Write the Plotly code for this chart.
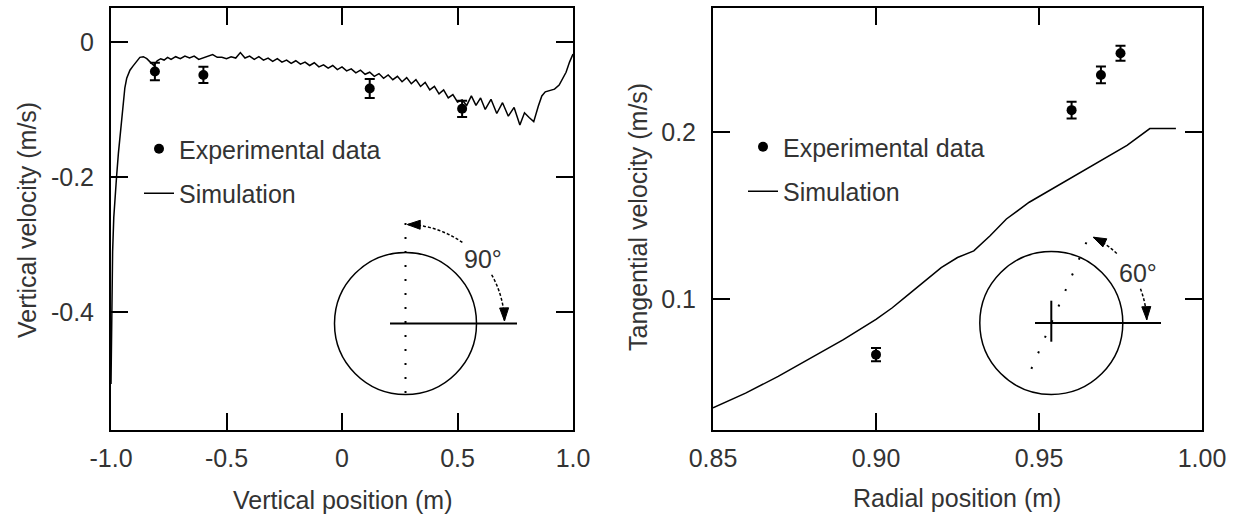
import numpy as np
import plotly.graph_objects as go

W, H = 1238, 518
FONT = "Arial, Liberation Sans, sans-serif"
TXT = "#333333"

# ---------------- data: left panel ----------------
left_exp_x = [-0.81, -0.60, 0.12, 0.52]
left_exp_y = [-0.044, -0.049, -0.069, -0.099]
left_exp_err = [0.013, 0.012, 0.014, 0.012]

left_sim_x = [-1.000, -0.997, -0.993, -0.988, -0.982, -0.976, -0.968, -0.961, -0.955, -0.948,
              -0.940, -0.932, -0.918, -0.905, -0.890, -0.875, -0.860, -0.845, -0.830, -0.815,
              -0.800, -0.785, -0.770, -0.755, -0.740, -0.720, -0.700, -0.680, -0.660, -0.640,
              -0.620, -0.600, -0.580, -0.560, -0.540, -0.520, -0.500, -0.480, -0.460, -0.440,
              -0.420, -0.400, -0.380, -0.360, -0.340, -0.320, -0.300, -0.280, -0.260, -0.240,
              -0.220, -0.200, -0.180, -0.160, -0.140, -0.120, -0.100, -0.080, -0.060, -0.040,
              -0.020, 0.000, 0.020, 0.040, 0.060, 0.080, 0.100, 0.120, 0.140, 0.160,
              0.180, 0.200, 0.220, 0.240, 0.260, 0.280, 0.300, 0.320, 0.340, 0.360,
              0.380, 0.400, 0.420, 0.440, 0.460, 0.480, 0.500, 0.520, 0.540, 0.560,
              0.580, 0.600, 0.620, 0.645, 0.670, 0.695, 0.720, 0.745, 0.770, 0.790,
              0.810, 0.830, 0.850, 0.865, 0.880, 0.900, 0.920, 0.940, 0.955, 0.970,
              0.985, 1.000]
left_sim_y = [-0.506, -0.390, -0.310, -0.260, -0.225, -0.200, -0.165, -0.140, -0.110, -0.086,
              -0.068, -0.054, -0.042, -0.036, -0.029, -0.023, -0.022, -0.025, -0.030, -0.035,
              -0.028, -0.025, -0.027, -0.023, -0.026, -0.022, -0.025, -0.021, -0.024, -0.021,
              -0.026, -0.024, -0.022, -0.019, -0.023, -0.023, -0.025, -0.022, -0.024, -0.016,
              -0.024, -0.021, -0.026, -0.022, -0.027, -0.024, -0.029, -0.025, -0.030, -0.027,
              -0.032, -0.028, -0.033, -0.030, -0.035, -0.031, -0.037, -0.034, -0.039, -0.035,
              -0.041, -0.037, -0.043, -0.040, -0.046, -0.042, -0.048, -0.045, -0.051, -0.047,
              -0.054, -0.049, -0.056, -0.051, -0.059, -0.053, -0.062, -0.056, -0.066, -0.060,
              -0.071, -0.066, -0.077, -0.071, -0.083, -0.078, -0.089, -0.086, -0.094, -0.080,
              -0.094, -0.083, -0.100, -0.085, -0.106, -0.090, -0.110, -0.097, -0.123, -0.105,
              -0.112, -0.118, -0.095, -0.080, -0.074, -0.072, -0.070, -0.064, -0.055, -0.045,
              -0.030, -0.018]

left_xticks = [-1.0, -0.5, 0.0, 0.5, 1.0]
left_xtick_text = ["-1.0", "-0.5", "0", "0.5", "1.0"]
left_yticks = [0.0, -0.2, -0.4]
left_ytick_text = ["0", "-0.2", "-0.4"]

# ---------------- data: right panel ----------------
right_exp_x = [0.900, 0.960, 0.969, 0.975]
right_exp_y = [0.067, 0.213, 0.234, 0.247]
right_exp_err = [0.004, 0.005, 0.005, 0.0045]

right_sim_x = [0.850, 0.860, 0.870, 0.880, 0.890, 0.900, 0.905, 0.910, 0.915, 0.920,
               0.925, 0.930, 0.935, 0.940, 0.947, 0.955, 0.962, 0.970, 0.977, 0.984, 0.992]
right_sim_y = [0.0352, 0.0440, 0.0540, 0.0650, 0.0760, 0.0880, 0.0950, 0.1030, 0.1110, 0.1190,
               0.1250, 0.1290, 0.1380, 0.1480, 0.1580, 0.1670, 0.1750, 0.1840, 0.1920, 0.2020, 0.2020]

right_xticks = [0.85, 0.90, 0.95, 1.00]
right_xtick_text = ["0.85", "0.90", "0.95", "1.00"]
right_yticks = [0.1, 0.2]
right_ytick_text = ["0.1", "0.2"]

labels = {
    "exp": "Experimental data",
    "sim": "Simulation",
    "lx": "Vertical position (m)",
    "ly": "Vertical velocity (m/s)",
    "rx": "Radial position (m)",
    "ry": "Tangential velocity (m/s)",
    "la": "90°",
    "ra": "60°",
}

# ---------------- helpers (pixel -> paper) ----------------
def X(px):
    return px / W

def Y(py):
    return 1 - py / H

fig = go.Figure()

err_style = dict(type="data", visible=True, thickness=2, width=5, color="black")

fig.add_trace(go.Scatter(x=left_exp_x, y=left_exp_y, mode="markers", name=labels["exp"],
                         marker=dict(color="black", size=10),
                         error_y=dict(array=left_exp_err, **err_style),
                         xaxis="x", yaxis="y", legend="legend", legendgroup="a"))
fig.add_trace(go.Scatter(x=left_sim_x, y=left_sim_y, mode="lines", name=labels["sim"],
                         line=dict(color="black", width=1.5),
                         xaxis="x", yaxis="y", legend="legend", legendgroup="b"))
fig.add_trace(go.Scatter(x=right_exp_x, y=right_exp_y, mode="markers", name=labels["exp"],
                         marker=dict(color="black", size=10),
                         error_y=dict(array=right_exp_err, **err_style),
                         xaxis="x2", yaxis="y2", legend="legend2", legendgroup="c"))
fig.add_trace(go.Scatter(x=right_sim_x, y=right_sim_y, mode="lines", name=labels["sim"],
                         line=dict(color="black", width=1.5),
                         xaxis="x2", yaxis="y2", legend="legend2", legendgroup="d"))

ax_common = dict(showline=True, linecolor="black", linewidth=2, mirror="ticks",
                 ticks="inside", ticklen=17, tickwidth=2, tickcolor="black",
                 showgrid=False, zeroline=False, automargin=False,
                 tickfont=dict(family=FONT, size=25, color=TXT))

ydom = [Y(430), Y(8)]
fig.update_layout(
    template="none",
    width=W, height=H,
    margin=dict(l=0, r=0, t=0, b=0, pad=0, autoexpand=False),
    paper_bgcolor="white", plot_bgcolor="white",
    xaxis=dict(domain=[X(111), X(573)], range=[-1, 1], tickvals=left_xticks,
               ticktext=left_xtick_text, anchor="y", ticklabelstandoff=5, **ax_common),
    yaxis=dict(domain=ydom, range=[-0.574, 0.05], tickvals=left_yticks,
               ticktext=left_ytick_text, anchor="x", ticklabelstandoff=10, **ax_common),
    xaxis2=dict(domain=[X(713), X(1202)], range=[0.85, 1.0], tickvals=right_xticks,
                ticktext=right_xtick_text, anchor="y2", ticklabelstandoff=5, **ax_common),
    yaxis2=dict(domain=ydom, range=[0.022, 0.274], tickvals=right_yticks,
                ticktext=right_ytick_text, anchor="x2", ticklabelstandoff=10, **ax_common),
    legend=dict(x=X(139), y=Y(126), xanchor="left", yanchor="top",
                bgcolor="rgba(0,0,0,0)", tracegroupgap=9, borderwidth=0,
                font=dict(family=FONT, size=25, color=TXT)),
    legend2=dict(x=X(743), y=Y(124), xanchor="left", yanchor="top",
                 bgcolor="rgba(0,0,0,0)", tracegroupgap=9, borderwidth=0,
                 font=dict(family=FONT, size=25, color=TXT)),
    showlegend=True,
)

# axis titles
ann = []
def title(text, px, py, angle=0):
    ann.append(dict(text=text, x=X(px), y=Y(py), xref="paper", yref="paper",
                    showarrow=False, textangle=angle, xanchor="center", yanchor="middle",
                    font=dict(family=FONT, size=25, color=TXT)))

title(labels["lx"], 343, 500)
title(labels["ly"], 27, 220, -90)
title(labels["rx"], 957, 498)
title(labels["ry"], 638, 217, -90)
title(labels["la"], 483, 259)
title(labels["ra"], 1138, 273)

# ---------------- inset diagrams (decoration, in pixel space) ----------------
shapes = []

def line_px(x0, y0, x1, y1, width=2, dash="solid"):
    shapes.append(dict(type="line", xref="paper", yref="paper",
                       x0=X(x0), y0=Y(y0), x1=X(x1), y1=Y(y1),
                       line=dict(color="black", width=width, dash=dash)))

def circle_px(cx, cy, r):
    shapes.append(dict(type="circle", xref="paper", yref="paper",
                       x0=X(cx - r), x1=X(cx + r), y0=Y(cy + r), y1=Y(cy - r),
                       line=dict(color="black", width=1.5)))

def arc_px(cx, cy, r, a0, a1):
    th = np.radians(np.linspace(a0, a1, 40))
    pts = [(X(cx + r * np.cos(t)), Y(cy - r * np.sin(t))) for t in th]
    path = "M " + " L ".join(f"{a:.5f},{b:.5f}" for a, b in pts)
    shapes.append(dict(type="path", xref="paper", yref="paper", path=path,
                       line=dict(color="black", width=1.5, dash="3px,2px")))

def head_px(cx, cy, r, a, sign, L=13, Wd=9):
    t = np.radians(a)
    tip = np.array([cx + r * np.cos(t), cy - r * np.sin(t)])
    d = sign * np.array([-np.sin(t), -np.cos(t)])
    n = np.array([-d[1], d[0]])
    base = tip - L * d
    p1 = base + n * Wd / 2
    p2 = base - n * Wd / 2
    path = (f"M {X(tip[0]):.5f},{Y(tip[1]):.5f} L {X(p1[0]):.5f},{Y(p1[1]):.5f} "
            f"L {X(p2[0]):.5f},{Y(p2[1]):.5f} Z")
    shapes.append(dict(type="path", xref="paper", yref="paper", path=path,
                       fillcolor="black", line=dict(color="black", width=1)))

# left inset
lcx, lcy = 405.5, 323.5
circle_px(lcx, lcy, 71)
line_px(390, lcy, 517, lcy, 2)
line_px(lcx, 223, lcx, 395, 2, "2px,12px")
arc_px(lcx, lcy, 99, 88.5, 54)
arc_px(lcx, lcy, 99, 29.5, 1.5)
head_px(lcx, lcy, 99, 89.0, +1)
head_px(lcx, lcy, 99, 1.5, -1)

# right inset
rcx, rcy = 1051.3, 323.0
circle_px(rcx, rcy, 71.5)
line_px(1035, rcy, 1161, rcy, 2)
line_px(rcx, 300.7, rcx, 341.7, 2)
ang = np.radians(66.5)
line_px(rcx - 50 * np.cos(ang), rcy + 50 * np.sin(ang),
        rcx + 97 * np.cos(ang), rcy - 97 * np.sin(ang), 2, "2px,15px")
arc_px(rcx, rcy, 95.5, 63.5, 46.5)
arc_px(rcx, rcy, 95.5, 21, 2)
head_px(rcx, rcy, 95.5, 64.0, +1)
head_px(rcx, rcy, 95.5, 2.0, -1)

fig.update_layout(annotations=ann, shapes=shapes)
fig.write_html("out.html")
